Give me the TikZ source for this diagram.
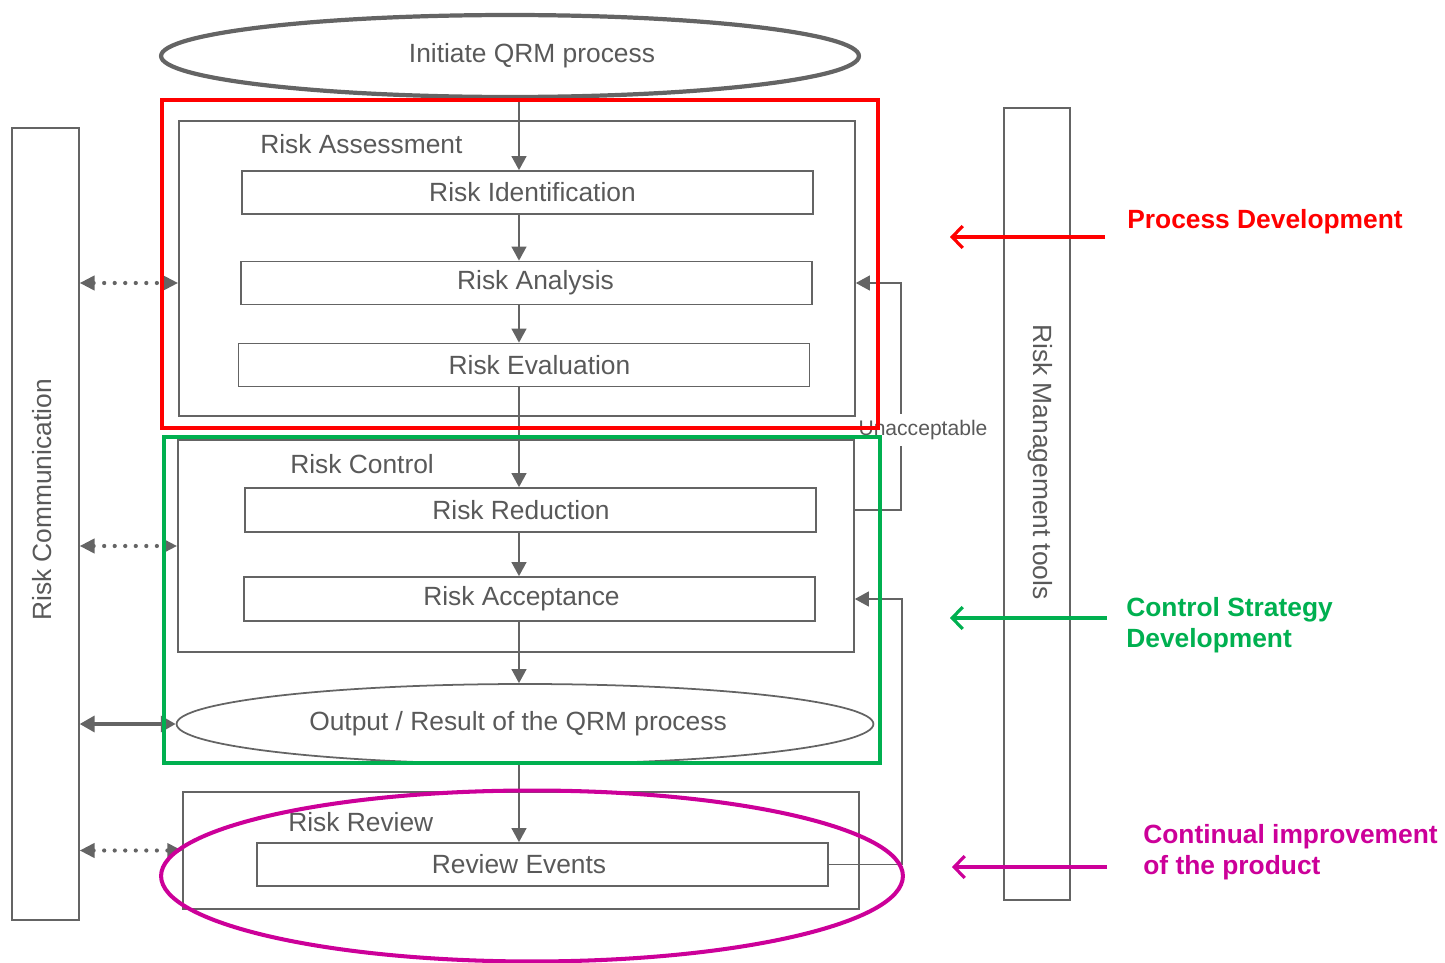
\documentclass[tikz,border=0pt]{standalone}
\usepackage{fontspec}
\setmainfont{Liberation Sans}
\usepackage{xcolor}
\usepackage{tikz}
\usetikzlibrary{arrows.meta,shapes.geometric}

\definecolor{qgray}{RGB}{100,100,100}
\definecolor{qtext}{RGB}{89,89,89}
\definecolor{qred}{RGB}{255,0,0}
\definecolor{qgreen}{RGB}{0,176,80}
\definecolor{qmagenta}{RGB}{204,0,153}

\begin{document}
\begin{tikzpicture}
	[x=0.02cm, y=-0.02cm,
	 every node/.style={font=\fontsize{15}{18}\selectfont, text=qtext},
	 box/.style={draw=qgray, line width=1pt, minimum width=11.42cm, minimum height=0.86cm, inner sep=0pt},
	 nudge/.style={execute at begin node={\hspace*{#1}}},
	 frame/.style={draw=qgray, line width=1pt, minimum width=13.52cm, inner sep=0pt},
	 bar/.style={draw=qgray, line width=1pt, minimum width=1.33cm, minimum height=15.84cm, inner sep=0pt},
	 flow/.style={draw=qgray, line width=0.9pt, -{Triangle[length=8pt,width=8.5pt]}},
	 talk/.style={draw=qgray, line width=2.4pt, line cap=round, dash pattern=on 0pt off 6pt,
		{Triangle[length=8.5pt,width=8pt]}-{Triangle[length=8.5pt,width=8pt]}},
	 result/.style={draw=qgray, line width=2.8pt, {Triangle[length=8.5pt,width=9pt]}-{Triangle[length=8.5pt,width=9pt]}},
	 phase/.style={line width=1.8pt, -{Straight Barb[length=6pt,width=12.5pt]}},
	 tag/.style={anchor=west, inner sep=0pt, align=left, font=\fontsize{15}{18}\selectfont\bfseries}]

	\useasboundingbox (0,0) rectangle (1445,963);

	% start
	\node[ellipse, draw=qgray, line width=2.4pt, minimum width=13.96cm, minimum height=1.64cm, nudge=0.88cm] (init) at (510,56) {Initiate QRM process};

	% risk assessment
	\node[frame, minimum height=5.9cm] (assess) at (517,268.5) {};
	\node[anchor=west, inner sep=0pt] at (260,144) {Risk Assessment};
	\node[box, nudge=0.2cm] (ident) at (527.5,192.5) {Risk Identification};
	\node[box, nudge=0.36cm] (analysis) at (526.5,283) {Risk Analysis};
	\node[box, nudge=0.62cm] (evaluation) at (524,365) {Risk Evaluation};

	% risk control
	\node[frame, minimum height=4.24cm] (control) at (516,546) {};
	\node[anchor=west, inner sep=0pt] at (290,464) {Risk Control};
	\node[box, minimum height=0.88cm, nudge=-0.38cm] (reduction) at (530.5,510) {Risk Reduction};
	\node[box, minimum height=0.88cm, nudge=-0.32cm] (acceptance) at (529.5,599) {Risk Acceptance};
	\node[ellipse, draw=qgray, line width=1pt, minimum width=13.94cm, minimum height=1.6cm, nudge=-0.28cm] (output) at (525,724) {Output / Result of the QRM process};

	% risk review
	\node[frame, minimum height=2.34cm] (review) at (521,850.5) {};
	\node[anchor=west, inner sep=0pt] at (288,822) {Risk Review};
	\node[box, nudge=-0.94cm] (events) at (542.5,864.5) {Review Events};

	% side bars
	\node[bar] (comm) at (45.5,524) {};
	\node[rotate=90] at (42,500) {Risk Communication};
	\node[bar] (tools) at (1037,504) {};
	\node[rotate=-90] at (1040,462) {Risk Management tools};

	% flow
	\coordinate (spine) at (519,0);
	\draw[flow] (init.south -| spine) -- (ident.north -| spine);
	\draw[flow] (ident.south -| spine) -- (analysis.north -| spine);
	\draw[flow] (analysis.south -| spine) -- (evaluation.north -| spine);
	\draw[flow] (evaluation.south -| spine) -- (reduction.north -| spine);
	\draw[flow] (reduction.south -| spine) -- (acceptance.north -| spine);
	\draw[flow] (acceptance.south -| spine) -- (output.north -| spine);
	\draw[flow] (output.south -| spine) -- (events.north -| spine);

	% loops
	\coordinate (loopa) at (901,0);
	\coordinate (loopb) at (902,0);
	\node[font=\fontsize{12}{14}\selectfont] (unacc) at (923,430) {Unacceptable};
	\draw[qgray, line width=0.9pt] (control.east |- reduction.east) -| (loopa |- unacc.south);
	\draw[flow] (loopa |- unacc.north) |- (assess.east |- analysis.east);
	\draw[flow] (events.east) -| (loopb |- acceptance.east) -- (control.east |- acceptance.east);

	% communication
	\draw[talk] (comm.east |- analysis.east) -- (assess.west |- analysis.east);
	\draw[talk] (comm.east |- control.west) -- (control.west);
	\draw[talk] (comm.east |- review.west) -- (review.west);
	\draw[result] (comm.east |- output.west) -- (output.west);

	% phases
	\draw[qred, line width=2.3pt] (162,100) rectangle (878,428);
	\draw[qgreen, line width=2.3pt] (164,437) rectangle (880,763);
	\node[ellipse, draw=qmagenta, line width=2.3pt, minimum width=14.84cm, minimum height=3.42cm] (improve) at (532,876) {};

	\node[tag, text=qred] (pdev) at (1127,222) {Process Development};
	\node[tag, text=qgreen] (csdev) at (1126,625) {Control Strategy\\Development};
	\node[tag, text=qmagenta] (cimp) at (1143,852) {Continual improvement\\of the product};

	\coordinate (pdtail) at (1105,237);
	\coordinate (pdtip) at (950,237);
	\coordinate (cstail) at (1107,618);
	\coordinate (cstip) at (950,618);
	\coordinate (citail) at (1107,867);
	\coordinate (citip) at (952,867);
	\draw[phase, qred] (pdtail) -- (pdtip);
	\draw[phase, qgreen] (cstail) -- (cstip);
	\draw[phase, qmagenta] (citail) -- (citip);

\end{tikzpicture}
\end{document}
